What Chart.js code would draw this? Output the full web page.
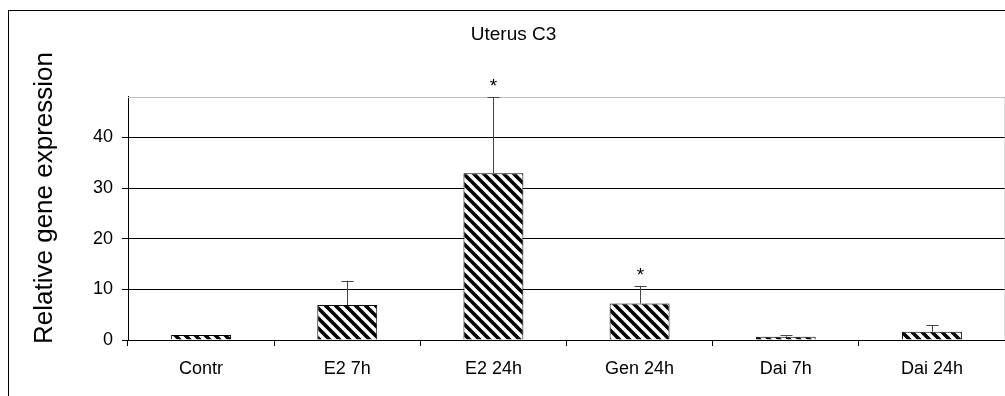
<!DOCTYPE html>
<html>
<head>
<meta charset="utf-8">
<script src="https://cdn.jsdelivr.net/npm/chart.js@4/dist/chart.umd.min.js"></script>
<style>
  html, body { margin: 0; padding: 0; background: #fff; }
  #wrap { width: 1005px; height: 396px; }
</style>
</head>
<body>
<div id="wrap"><canvas id="chart"></canvas></div>
<script>
const CATEGORIES = ['Contr', 'E2 7h', 'E2 24h', 'Gen 24h', 'Dai 7h', 'Dai 24h'];
const MEANS      = [1.0, 6.9, 32.9, 7.2, 0.65, 1.65];
const ERR_UP     = [0, 4.8, 15.0, 3.5, 0.3, 1.3];
const SIGNIF     = [false, false, true, true, false, false];
const Y_TICKS    = [0, 10, 20, 30, 40];
const Y_MAX      = 48;
const Y_TITLE    = 'Relative gene expression';

const FONT = '"Liberation Sans", Arial, sans-serif';

// diagonal hatch (top-left to bottom-right), black on white
function hatch() {
    const c = document.createElement('canvas');
    c.width = 10; c.height = 10;
    const g = c.getContext('2d');
    g.fillStyle = '#fff';
    g.fillRect(0, 0, 10, 10);
    g.strokeStyle = '#000';
    g.lineWidth = 3.6;
    g.beginPath();
    for (let k = -2; k <= 2; k++) {
        g.moveTo(k * 10 - 5, -5);
        g.lineTo(k * 10 + 15, 15);
    }
    g.stroke();
    return g.createPattern(c, 'repeat');
}

// outer frame, y title, plot-area border, error bars and asterisks
const extras = {
    id: 'extras',
    beforeDraw(chart) {
        const ctx = chart.ctx;
        ctx.save();
        ctx.strokeStyle = '#000';
        ctx.lineWidth = 1;
        ctx.strokeRect(8.5, 10.5, 1200, 600);

        // y title sits a bit above the plot middle in the original
        ctx.translate(52, 198);
        ctx.rotate(-Math.PI / 2);
        ctx.fillStyle = '#000';
        ctx.font = '26px ' + FONT;
        ctx.textAlign = 'center';
        ctx.textBaseline = 'alphabetic';
        ctx.fillText(Y_TITLE, 0, 0);
        ctx.restore();
    },
    afterDatasetsDraw(chart) {
        const ctx = chart.ctx;
        const a = chart.chartArea;
        const y = chart.scales.y;
        const meta = chart.getDatasetMeta(0);
        ctx.save();
        ctx.strokeStyle = '#bdbdbd';
        ctx.lineWidth = 1;
        ctx.beginPath();
        ctx.moveTo(a.left, Math.round(a.top) + 0.5);
        ctx.lineTo(a.right, Math.round(a.top) + 0.5);
        ctx.lineTo(a.right, a.bottom);
        ctx.stroke();

        ctx.strokeStyle = '#444';
        ctx.fillStyle = '#000';
        ctx.font = '19px ' + FONT;
        ctx.textAlign = 'center';
        meta.data.forEach((bar, i) => {
            const x = Math.round(bar.x) + 0.5;
            const top = y.getPixelForValue(MEANS[i] + ERR_UP[i]);
            if (ERR_UP[i] > 0) {
                ctx.beginPath();
                ctx.moveTo(x, bar.y);
                ctx.lineTo(x, top);
                ctx.moveTo(x - 6, Math.round(top) + 0.5);
                ctx.lineTo(x + 6, Math.round(top) + 0.5);
                ctx.stroke();
            }
            if (SIGNIF[i]) {
                ctx.fillText('*', x, top - 5);
            }
        });
        ctx.restore();
    }
};

new Chart(document.getElementById('chart'), {
    type: 'bar',
    data: {
        labels: CATEGORIES,
        datasets: [{
            data: MEANS,
            backgroundColor: hatch(),
            borderColor: '#000',
            borderWidth: 1,
            barPercentage: 0.41,
            categoryPercentage: 1
        }]
    },
    options: {
        responsive: true,
        maintainAspectRatio: false,
        animation: false,
        layout: { padding: { left: 22, right: 0, top: 0, bottom: 0 } },
        plugins: {
            legend: { display: false },
            tooltip: { enabled: false },
            title: {
                display: true,
                text: 'Uterus C3',
                color: '#000',
                font: { family: FONT, size: 19, weight: 'normal' },
                padding: { top: 23, bottom: 51 }
            }
        },
        scales: {
            x: {
                grid: { drawOnChartArea: false, color: '#000', tickLength: 6, offset: true },
                border: { color: '#000' },
                ticks: { color: '#000', font: { family: FONT, size: 18 }, padding: 12, maxRotation: 0 },
                afterFit(s) { s.height = 56; }
            },
            y: {
                min: 0,
                max: Y_MAX,
                afterBuildTicks(s) { s.ticks = Y_TICKS.map(v => ({ value: v })); },
                grid: { color: '#000', tickLength: 6 },
                border: { color: '#000' },
                ticks: { color: '#000', font: { family: FONT, size: 18 }, padding: 9 },
                afterFit(s) { s.width = 106; }
            }
        }
    },
    plugins: [extras]
});
</script>
</body>
</html>
